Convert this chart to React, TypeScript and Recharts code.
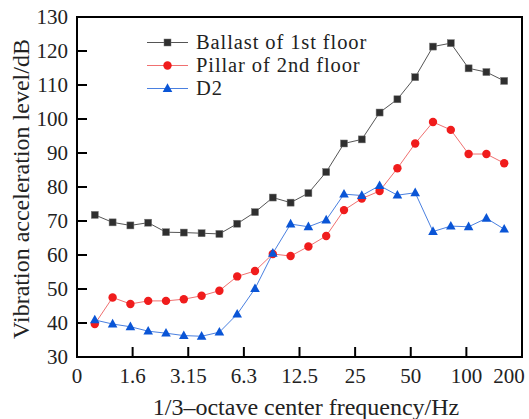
import { LineChart, Line, XAxis, YAxis, ReferenceArea } from "recharts";

// 1/3-octave bands, plotted at equal spacing (position = index + 1)
const bands = ["1", "1.25", "1.6", "2", "2.5", "3.15", "4", "5", "6.3", "8", "10", "12.5", "16", "20", "25", "31.5", "40", "50", "63", "80", "100", "125", "160", "200"];
const ballast = [71.8, 69.6, 68.7, 69.5, 66.7, 66.6, 66.4, 66.2, 69.2, 72.6, 76.9, 75.4, 78.2, 84.4, 92.8, 94.0, 101.9, 105.8, 112.3, 121.3, 122.3, 114.9, 113.8, 111.2];
const pillar = [39.7, 47.5, 45.6, 46.5, 46.5, 47.0, 48.0, 49.5, 53.7, 55.3, 60.3, 59.7, 62.5, 65.6, 73.2, 76.6, 78.8, 85.5, 92.8, 99.1, 96.8, 89.7, 89.7, 87.0];
const d2 = [40.9, 39.7, 38.9, 37.6, 37.0, 36.3, 36.1, 37.3, 42.6, 50.1, 60.5, 69.1, 68.3, 70.3, 77.9, 77.5, 80.4, 77.6, 78.3, 66.9, 68.5, 68.3, 70.8, 67.6];
const xTickLabels = ["0", "1.6", "3.15", "6.3", "12.5", "25", "50", "100", "200"];
const yTicks = [30, 40, 50, 60, 70, 80, 90, 100, 110, 120, 130];

const FONT = "'Liberation Serif', 'DejaVu Serif', serif";
const X_MAX = 25;
const xTicks = xTickLabels.map((_, i) => (i * X_MAX) / (xTickLabels.length - 1));

const data = bands.map((band, i) => ({
  band,
  pos: i + 1,
  ballast: ballast[i],
  pillar: pillar[i],
  d2: d2[i],
}));

const series = [
  { key: "ballast", name: "Ballast of 1st floor", line: "#555555", fill: "#2f2f2f", shape: "square" },
  { key: "pillar", name: "Pillar of 2nd floor", line: "#f07070", fill: "#f01c1c", shape: "circle" },
  { key: "d2", name: "D2", line: "#4a80e0", fill: "#0a55d6", shape: "triangle" },
];

function Marker({ shape, cx, cy, fill }: { shape: string; cx: number; cy: number; fill: string }) {
  if (shape === "square") return <rect x={cx - 3.5} y={cy - 3.5} width={7} height={7} fill={fill} stroke="#777" strokeWidth={0.5} />;
  if (shape === "circle") return <circle cx={cx} cy={cy} r={4.2} fill={fill} />;
  return <polygon points={`${cx},${cy - 5.2} ${cx + 4.8},${cy + 3.4} ${cx - 4.8},${cy + 3.4}`} fill={fill} />;
}

function XTick(props: any) {
  const { x, y, payload, index } = props;
  const shift = index === xTickLabels.length - 1 ? -13 : 0;
  return (
    <text x={x + shift} y={y} dy="0.71em" textAnchor="middle" fontFamily={FONT} fontSize={21} fill="#222">
      {xTickLabels[index] ?? payload.value}
    </text>
  );
}

// legend drawn over the plot, top-left, rows ~22px apart
function LegendBox() {
  return (
    <div style={{ position: "absolute", left: 147, top: 31, fontFamily: FONT, fontSize: 20.5, letterSpacing: 0.9, color: "#222", lineHeight: "23px" }}>
      {series.map((s) => (
        <div key={s.key} style={{ display: "flex", alignItems: "center", height: 23 }}>
          <svg width={49} height={23}>
            <line x1={0} y1={11.5} x2={41} y2={11.5} stroke={s.line} strokeWidth={1} />
            <Marker shape={s.shape} cx={20.5} cy={11.5} fill={s.fill} />
          </svg>
          <span>{s.name}</span>
        </div>
      ))}
    </div>
  );
}

export default function App() {
  return (
    <div style={{ position: "absolute", left: 0, top: 0, width: 529, height: 419, background: "#fff" }}>
      <LineChart width={529} height={419} data={data} margin={{ top: 17, right: 7, left: 17, bottom: 0 }}>
        <XAxis
          type="number"
          dataKey="pos"
          domain={[0, X_MAX]}
          ticks={xTicks}
          interval={0}
          height={62}
          tickSize={-10}
          tickMargin={21}
          tick={<XTick />}
          axisLine={{ stroke: "#000", strokeWidth: 2 }}
          tickLine={{ stroke: "#000", strokeWidth: 2 }}
          label={() => (
            <text x={306} y={415} textAnchor="middle" fontFamily={FONT} fontSize={24} fill="#222">
              1/3–octave center frequency/Hz
            </text>
          )}
        />
        <YAxis
          type="number"
          domain={[30, 130]}
          ticks={yTicks}
          interval={0}
          width={60}
          tickSize={-10}
          tickMargin={19}
          tick={{ fontFamily: FONT, fontSize: 21, fill: "#222" }}
          axisLine={{ stroke: "#000", strokeWidth: 2 }}
          tickLine={{ stroke: "#000", strokeWidth: 2 }}
          label={() => (
            <text x={29} y={189} transform="rotate(-90 29 189)" textAnchor="middle" fontFamily={FONT} fontSize={24} fill="#222">
              Vibration acceleration level/dB
            </text>
          )}
        />
        <ReferenceArea x1={0} x2={X_MAX} y1={30} y2={130} fill="none" stroke="#000" strokeWidth={2} ifOverflow="visible" />
        {series.map((s) => (
          <Line
            key={s.key}
            type="linear"
            dataKey={s.key}
            name={s.name}
            stroke={s.line}
            strokeWidth={1}
            isAnimationActive={false}
            dot={(p: any) => <Marker key={`${s.key}-${p.index}`} shape={s.shape} cx={p.cx} cy={p.cy} fill={s.fill} />}
          />
        ))}
      </LineChart>
      <LegendBox />
    </div>
  );
}
